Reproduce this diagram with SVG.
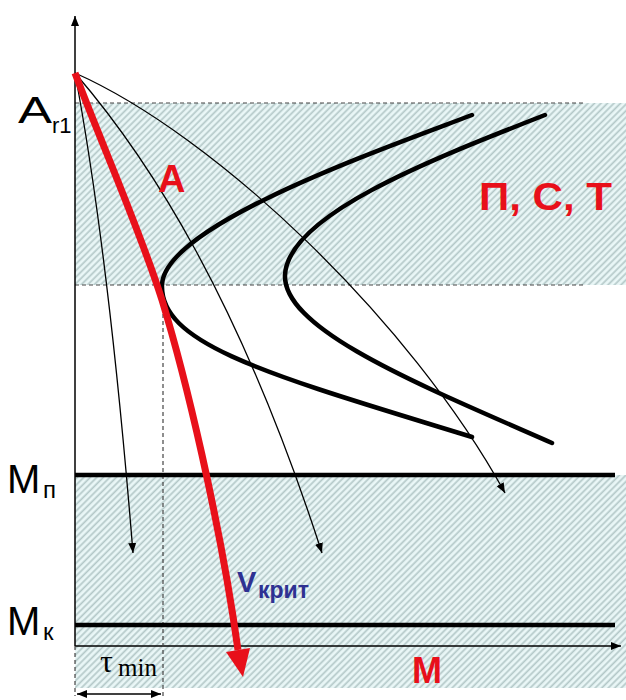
<svg xmlns="http://www.w3.org/2000/svg" width="626" height="700" viewBox="0 0 626 700">
<defs>
<pattern id="hatch" width="4.6" height="4.6" patternUnits="userSpaceOnUse" patternTransform="rotate(45)">
<rect width="4.6" height="4.6" fill="#eaf7f7"/>
<line x1="1.2" y1="0" x2="1.2" y2="4.6" stroke="#b4c8c8" stroke-width="1.7"/>
</pattern>
<marker id="ah" viewBox="0 0 10 8" refX="10" refY="4" markerWidth="10" markerHeight="8" markerUnits="userSpaceOnUse" orient="auto">
<path d="M0,0 L10,4 L0,8 Z" fill="#000"/>
</marker>
<marker id="ah2" viewBox="0 0 10 8" refX="10" refY="4" markerWidth="10" markerHeight="8" markerUnits="userSpaceOnUse" orient="auto-start-reverse">
<path d="M0,0 L10,4 L0,8 Z" fill="#000"/>
</marker>
</defs>
<style>
.thin{fill:none;stroke:#000;stroke-width:1.3}
.thick{fill:none;stroke:#000;stroke-width:4.5;stroke-linecap:round}
.dash{fill:none;stroke:#444;stroke-width:1.2;stroke-dasharray:4 3}
.lbl{font-family:"Liberation Sans",Arial,sans-serif;fill:#000}
.red{font-family:"Liberation Sans",Arial,sans-serif;font-weight:bold;fill:#e8101a}
.blue{font-family:"Liberation Sans",Arial,sans-serif;font-weight:bold;fill:#2e3192}
.tau{font-family:"Liberation Serif","Times New Roman",serif;fill:#000}
</style>
<rect width="626" height="700" fill="#fff"/>
<g id="zones">
<rect x="75" y="103" width="551" height="182" fill="url(#hatch)"/>
<rect x="75" y="475" width="551" height="213" fill="url(#hatch)"/>
<line class="dash" x1="75" y1="103" x2="585" y2="103"/>
<line class="dash" x1="75" y1="285" x2="585" y2="285"/>
</g>
<g id="axes">
<line x1="75" y1="646" x2="75" y2="16" stroke="#000" stroke-width="1.5" marker-end="url(#ah)"/>
<line x1="75" y1="646" x2="621" y2="646" stroke="#000" stroke-width="1.5" marker-end="url(#ah)"/>
<line class="dash" x1="75" y1="646" x2="75" y2="696" stroke-dasharray="5 4"/>
<line class="dash" x1="163" y1="300" x2="163" y2="696" stroke-dasharray="5 4"/>
<line x1="77" y1="694" x2="161" y2="694" stroke="#000" stroke-width="1.5" marker-start="url(#ah2)" marker-end="url(#ah)"/>
</g>
<g id="levels">
<line x1="75" y1="475" x2="615" y2="475" stroke="#000" stroke-width="4.5"/>
<line x1="75" y1="625" x2="615" y2="625" stroke="#000" stroke-width="4.5"/>
</g>
<g id="c-curves">
<path class="thick" d="M472,115 C380,150 164,225 162,285 C160,345 270,375 472,437"/>
<path class="thick" d="M545,115 C430,160 288,215 285,275 C283,330 420,385 552,443"/>
</g>
<g id="connectors">
<path class="thin" d="M75,73 C95,180 115,330 133,553" marker-end="url(#ah)"/>
<path class="thin" d="M75,73 C150,160 240,300 322,553" marker-end="url(#ah)"/>
<path class="thin" d="M75,73 C215,135 410,320 505,493" marker-end="url(#ah)"/>
<path d="M75,73 C100,140 140,230 162,300 C185,375 220,520 238,650" fill="none" stroke="#e8101a" stroke-width="7"/>
<polygon points="243,677 226,652 250,648" fill="#e8101a"/>
</g>
<g id="labels">
<text class="lbl" x="18" y="123" font-size="36" textLength="34" lengthAdjust="spacingAndGlyphs">A</text>
<text class="lbl" x="52" y="133" font-size="22">r1</text>
<text class="lbl" x="7" y="493" font-size="40">M</text>
<text class="lbl" x="43" y="498" font-size="24">п</text>
<text class="lbl" x="7" y="635" font-size="40">M</text>
<text class="lbl" x="43" y="640" font-size="24">к</text>
<text class="tau" x="100" y="672" font-size="32">τ</text>
<text class="tau" x="118" y="676" font-size="25">min</text>
<text class="red" x="158" y="192" font-size="38">A</text>
<text class="red" x="479" y="210" font-size="39" textLength="133" lengthAdjust="spacingAndGlyphs">П, С, Т</text>
<text class="red" x="412" y="683" font-size="36">M</text>
<text class="blue" x="237" y="592" font-size="29">V</text>
<text class="blue" x="258" y="598" font-size="23">крит</text>
</g>
</svg>
